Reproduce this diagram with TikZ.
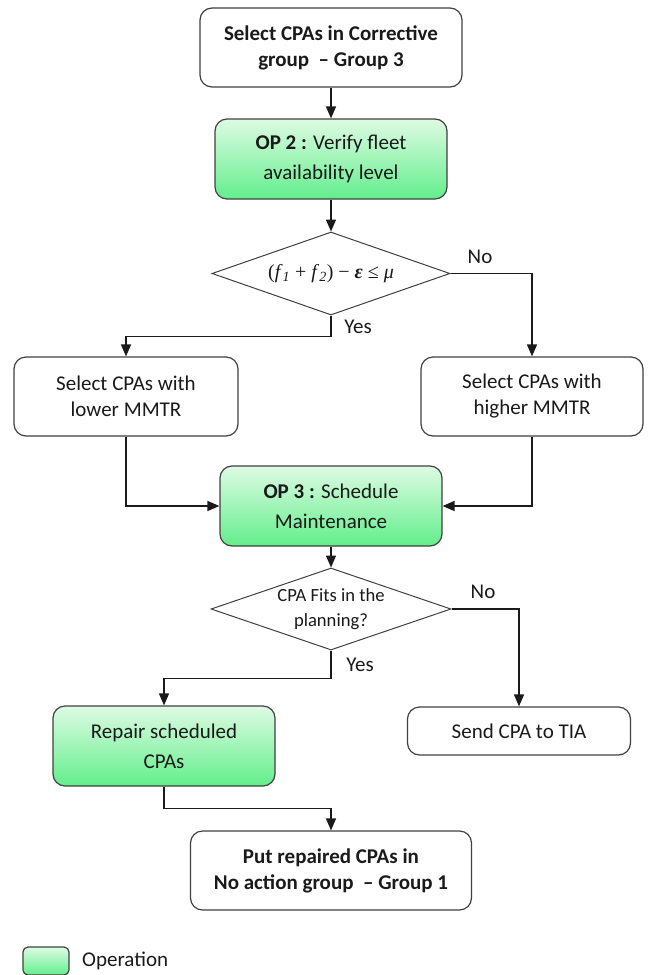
\documentclass[tikz,border=0pt]{standalone}
\usepackage{fontspec}
\setmainfont{Carlito}
\newfontfamily\timesfont{Liberation Serif}
\usepackage{tikz}
\usepackage{xcolor}
\usetikzlibrary{shapes.geometric,arrows.meta}
\definecolor{optopc}{HTML}{DDFBE3}
\definecolor{opbottomc}{HTML}{63EE8C}
\definecolor{edgec}{HTML}{404040}
\definecolor{inkc}{HTML}{1A1A1A}
\colorlet{optop}{optopc}
\colorlet{opbottom}{opbottomc}
\colorlet{edgecolor}{edgec}
\colorlet{inkcolor}{inkc}
\tikzstyle{stepbox} =[
    draw=edgecolor,
    line width=1.2pt,
    rectangle,
    rounded corners=12pt,
    fill=white,
    text=inkcolor,
    align=center,
    inner sep=0pt,
    font=\fontsize{21}{26}\selectfont
    ]
\tikzstyle{opbox} = [
    stepbox,
    top color=optop,
    bottom color=opbottom,
    font=\fontsize{21}{30}\selectfont
    ]
\tikzstyle{testbox} = [
    draw=edgecolor,
    line width=1pt,
    diamond,
    aspect=2.9,
    inner sep=0pt,
    fill=white,
    text=inkcolor,
    align=center
    ]
\tikzstyle{flow} = [
    draw=inkcolor,
    line width=1.5pt,
    -{Triangle[width=10pt,length=12pt]}
    ]
\tikzstyle{answer} = [
    text=inkcolor,
    inner sep=0pt,
    font=\fontsize{21}{26}\selectfont
    ]

\begin{document}
\begin{tikzpicture}[x=1pt,y=-1pt]
\useasboundingbox (0,0) rectangle (650,975);

\node[stepbox, minimum width=262pt, minimum height=79pt,
      font=\fontsize{21}{26}\selectfont\bfseries] (top) at (331,47.5)
    {Select CPAs in Corrective\\group~~– Group 3};
\node[opbox, minimum width=232pt, minimum height=80pt] (op2) at (331,159)
    {\textbf{OP 2 :} Verify fleet\\availability level};
\node[testbox, minimum width=238pt, minimum height=83pt] (fleetcheck) at (331,273.5)
    {\timesfont\fontsize{20}{24}\selectfont
     (\textit{f}\textsubscript{\textit{1}} + \textit{f}\textsubscript{\textit{2}}) − \textbf{\textit{ε}} ≤ \textit{μ}};
\node[stepbox, minimum width=224pt, minimum height=79pt] (lowbox) at (126,396.5)
    {Select CPAs with\\lower MMTR};
\node[stepbox, minimum width=222pt, minimum height=79pt] (highbox) at (532,396.5)
    {Select CPAs with\\higher MMTR};
\node[opbox, minimum width=222pt, minimum height=80pt] (op3) at (331,506)
    {\textbf{OP 3 :} Schedule\\Maintenance};
\node[testbox, minimum width=240pt, minimum height=82pt,
      font=\fontsize{18.6}{25}\selectfont] (fitcheck) at (331,609)
    {CPA Fits in the\\planning?};
\node[opbox, minimum width=222pt, minimum height=80pt] (repairbox) at (164,746)
    {Repair scheduled\\CPAs};
\node[stepbox, minimum width=223pt, minimum height=48pt] (tiabox) at (519,731)
    {Send CPA to TIA};
\node[stepbox, minimum width=281pt, minimum height=79pt,
      font=\fontsize{21}{26}\selectfont\bfseries] (finalbox) at (331,870.5)
    {Put repaired CPAs in\\No action group~~– Group 1};

% answers
\node[answer] (no1) at (480,257) {No};
\node[answer] (yes1) at (358,327) {Yes};
\node[answer] (no2) at (483,592) {No};
\node[answer] (yes2) at (360,665) {Yes};

\draw[flow] (top) -- (op2);
\draw[flow] (op2) -- (fleetcheck);
\draw[flow] (fleetcheck.south) -- ++(0,21) -| (lowbox.north);
\draw[flow] (fleetcheck.east) -| (highbox.north);
\draw[flow] (lowbox.south) |- (op3.west);
\draw[flow] (highbox.south) |- (op3.east);
\draw[flow] (op3) -- (fitcheck);
\draw[flow] (fitcheck.south) -- ++(0,28) -| (repairbox.north);
\draw[flow] (fitcheck.east) -| (tiabox.north);
\draw[flow] (repairbox.south) -- ++(0,22) -| (finalbox.north);

% legend
\node[opbox, rounded corners=5pt, minimum width=46pt, minimum height=28pt] (legendbox) at (46,961) {};
\node[answer, anchor=west] (legendtext) at (82,961) {Operation};
\end{tikzpicture}
\end{document}
